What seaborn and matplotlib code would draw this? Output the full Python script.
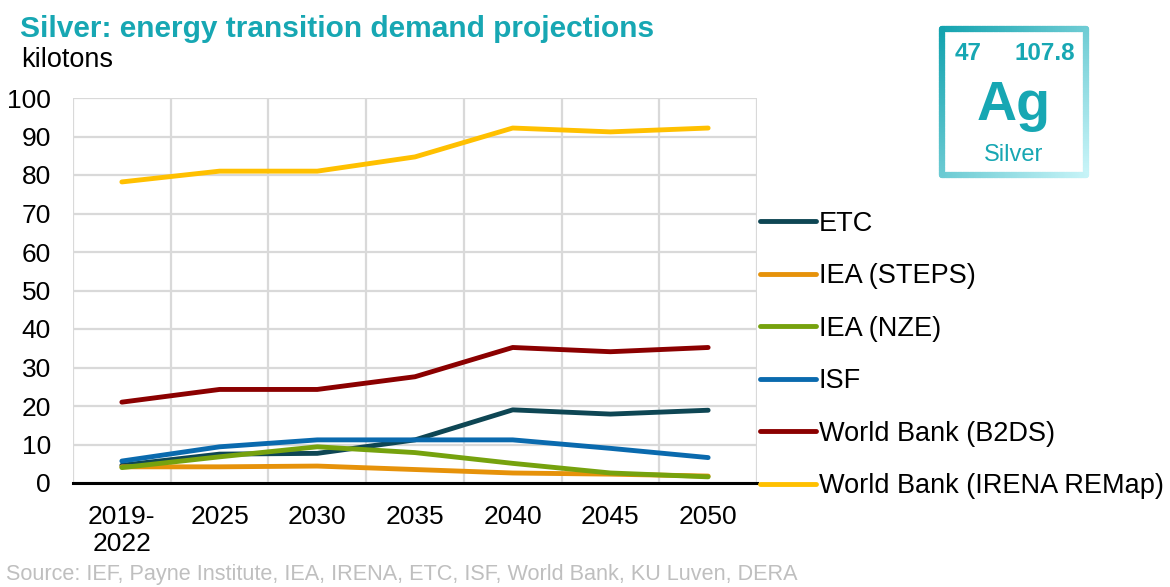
import numpy as np
import pandas as pd
import matplotlib
matplotlib.use("Agg")
import matplotlib.pyplot as plt
from matplotlib.collections import LineCollection
import seaborn as sns

categories = ["2019-\n2022", "2025", "2030", "2035", "2040", "2045", "2050"]
etc = [4.6, 7.5, 7.7, 11.2, 19.0, 17.9, 18.9]
iea_steps = [4.2, 4.2, 4.4, 3.5, 2.6, 2.3, 1.8]
iea_nze = [4.0, 6.8, 9.4, 7.9, 5.1, 2.6, 1.6]
isf = [5.7, 9.4, 11.2, 11.2, 11.2, 9.0, 6.6]
wb_b2ds = [21.0, 24.3, 24.3, 27.6, 35.2, 34.1, 35.2]
wb_irena = [78.2, 81.0, 81.0, 84.7, 92.2, 91.2, 92.2]

series_names = ["ETC", "IEA (STEPS)", "IEA (NZE)", "ISF", "World Bank (B2DS)",
                "World Bank (IRENA REMap)"]
series_values = [etc, iea_steps, iea_nze, isf, wb_b2ds, wb_irena]
colors = ["#0E4654", "#E6920A", "#76A20E", "#0A6AAE", "#8B0000", "#FFC000"]
yticks = [0, 10, 20, 30, 40, 50, 60, 70, 80, 90, 100]

rows = []
for name, vals in zip(series_names, series_values):
    for i, (c, v) in enumerate(zip(categories, vals)):
        rows.append({"pos": i, "cat": c, "series": name, "value": v})
df = pd.DataFrame(rows)

sns.set_theme(style="white")
plt.rcParams["font.family"] = ["Liberation Sans", "DejaVu Sans"]
plt.rcParams["text.color"] = "black"

LW = 3.5
fig = plt.figure(figsize=(11.7, 5.87), dpi=100)
ax = fig.add_axes([73 / 1170, 1 - 483 / 587, (757 - 73) / 1170, (483 - 98) / 587])

sns.lineplot(data=df, x="pos", y="value", hue="series", hue_order=series_names,
             palette=colors, linewidth=LW, ax=ax, legend=False, sort=False,
             solid_capstyle="round", zorder=3)

ax.set_xlim(-0.5, 6.5)
ax.set_ylim(0, 100)
ax.set_xticks(range(len(categories)))
ax.set_xticklabels(categories, fontsize=19, linespacing=1.15)
ax.set_xticks(np.arange(-0.5, 7, 1), minor=True)
ax.set_yticks(yticks)
ax.set_yticklabels([str(t) for t in yticks], fontsize=19)
ax.tick_params(axis="x", which="both", length=0, pad=16, colors="black")
ax.tick_params(axis="y", length=0, pad=16, colors="black")
ax.grid(False)
ax.grid(axis="x", which="minor", color="#D9D9D9", linewidth=1.6, zorder=0)
ax.grid(axis="y", which="major", color="#D9D9D9", linewidth=1.6, zorder=0)
ax.set_axisbelow(True)
for s in ["left", "right", "top"]:
    ax.spines[s].set_visible(False)
ax.spines["bottom"].set_color("black")
ax.spines["bottom"].set_linewidth(2.2)
ax.spines["bottom"].set_zorder(4)
ax.set_xlabel("")
ax.set_ylabel("")

handles = [plt.Line2D([], [], color=c, linewidth=LW, solid_capstyle="round")
           for c in colors]
leg = fig.legend(handles, series_names, loc="center left",
                 bbox_to_anchor=(760 / 1170, 1 - 355 / 587), frameon=False,
                 fontsize=19.5, handlelength=2.05, handletextpad=0.12,
                 labelspacing=0.98, borderpad=0, borderaxespad=0)
for t in leg.get_texts():
    t.set_color("black")

teal = "#17A7B3"
fig.text(20 / 1170, 1 - 37 / 587, "Silver: energy transition demand projections",
         color=teal, fontsize=21.5, fontweight="bold", va="baseline", ha="left")
fig.text(21 / 1170, 1 - 67 / 587, "kilotons", color="black", fontsize=19.5,
         va="baseline", ha="left")
fig.text(6 / 1170, 1 - 580 / 587,
         "Source: IEF, Payne Institute, IEA, IRENA, ETC, ISF, World Bank, KU Luven, DERA",
         color="#BFBFBF", fontsize=15.6, va="baseline", ha="left")

# Element tile
x0, x1 = 942 / 1170, 1086 / 1170
y0, y1 = 1 - 175 / 587, 1 - 29 / 587
c_start = np.array(matplotlib.colors.to_rgb("#13A3AF"))
c_end = np.array(matplotlib.colors.to_rgb("#C8F4F8"))
n = 60
segs, cols = [], []
def add_side(p, q):
    for k in range(n):
        a = p + (q - p) * k / n
        b = p + (q - p) * (k + 1) / n
        m = (a + b) / 2
        t = ((m[0] - x0) / (x1 - x0) * 0.5 + (y1 - m[1]) / (y1 - y0) * 0.5)
        segs.append([a, b])
        cols.append(c_start + (c_end - c_start) * t)
corners = [np.array([x0, y1]), np.array([x1, y1]), np.array([x1, y0]),
           np.array([x0, y0])]
for i in range(4):
    add_side(corners[i], corners[(i + 1) % 4])
lc = LineCollection(segs, colors=cols, linewidths=4.5, transform=fig.transFigure,
                    capstyle="round")
fig.add_artist(lc)

fig.text(968 / 1170, 1 - 53 / 587, "47", color=teal, fontsize=17.5,
         fontweight="bold", ha="center", va="center")
fig.text(1045 / 1170, 1 - 53 / 587, "107.8", color=teal, fontsize=17.5,
         fontweight="bold", ha="center", va="center")
fig.text(1014 / 1170, 1 - 120 / 587, "Ag", color=teal, fontsize=40,
         fontweight="bold", ha="center", va="baseline")
fig.text(1014 / 1170, 1 - 155 / 587, "Silver", color=teal, fontsize=17,
         ha="center", va="center")

fig.savefig("out.png", dpi=100)
